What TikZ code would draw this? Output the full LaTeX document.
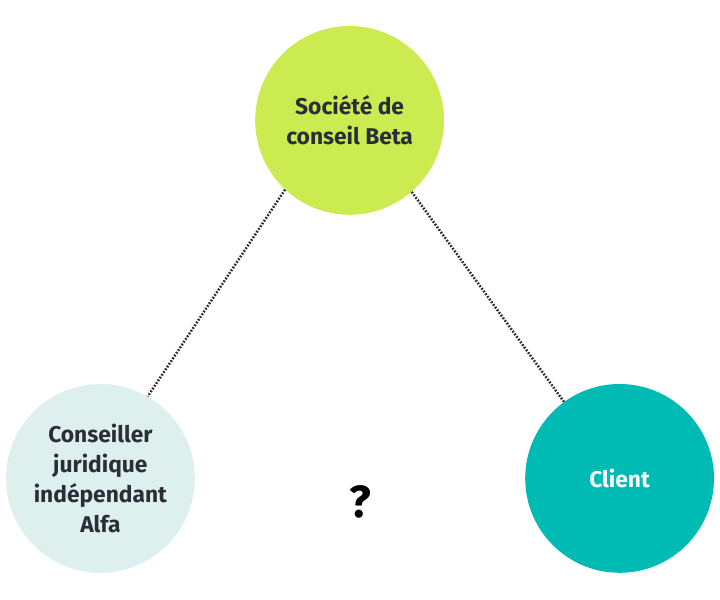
\documentclass[tikz,border=0pt]{standalone}
\usepackage{fontspec}
\setmainfont{Fira Sans}
\definecolor{betagreen}{HTML}{CBEB50}
\definecolor{alfapale}{HTML}{DEF0EE}
\definecolor{clientteal}{HTML}{00BBB3}
\definecolor{inkdark}{HTML}{2A2E38}
\tikzset{
  party/.style={circle, minimum size=4.72cm, inner sep=0pt, align=center,
    font=\bfseries\fontsize{16.2}{21.3}\selectfont, text=inkdark},
  link/.style={inkdark, line width=1.8pt, dash pattern=on 1.25pt off 1.1pt}
}
\begin{document}
\begin{tikzpicture}

    % Frame
\useasboundingbox (0,0) rectangle (18,15);

% Parties
\node[party, fill=betagreen] (beta) at (8.74,11.99) {Société de\\conseil Beta};
\node[party, fill=alfapale] (alfa) at (2.51,3.04) {Conseiller\\juridique\\indépendant\\Alfa};
\node[party, fill=clientteal, text=white] (client) at (15.49,3.04) {Client};

% Dotted links
\draw[link] (beta.227) -- (alfa.60);
\draw[link] (beta.311) -- (client.126);

% Open question
\node[font=\bfseries\fontsize{32}{32}\selectfont] (question) at (9.01,2.44) {?};

\end{tikzpicture}
\end{document}
